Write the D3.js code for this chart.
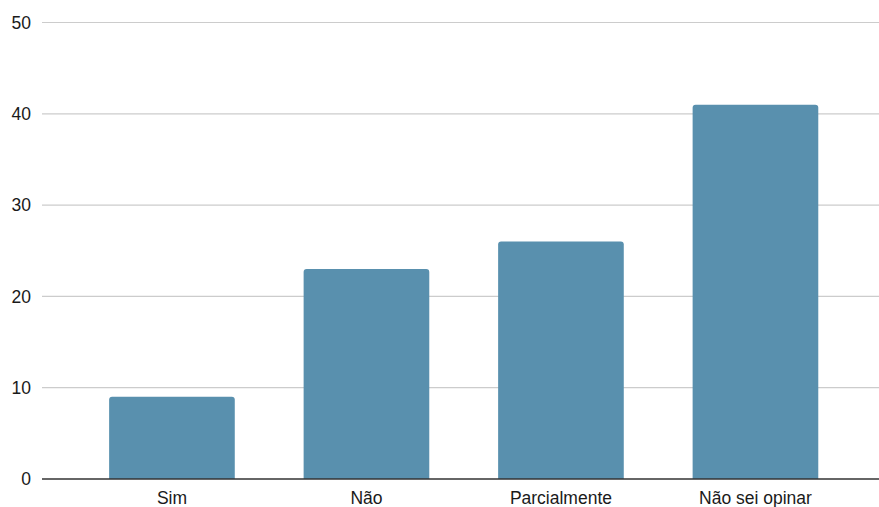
<!DOCTYPE html>
<html><head><meta charset="utf-8">
<script src="https://cdn.jsdelivr.net/npm/d3@7"></script>
<style>html,body{margin:0;padding:0;background:#fff;}svg{display:block;}</style>
</head><body>
<script>
const categories = ["Sim", "Não", "Parcialmente", "Não sei opinar"];
const values = [9, 23, 26, 41];
const yTicks = [0, 10, 20, 30, 40, 50];

const W = 879, H = 507;
const svg = d3.select("body").append("svg").attr("width", W).attr("height", H);
const y = d3.scaleLinear().domain([0, 50]).range([479, 22.5]);
const x = d3.scaleBand().domain(categories).range([74.7, 852.7]).paddingInner(0.354).paddingOuter(0.177);
const left = 42, right = 879;
const font = "Liberation Sans, Arial, sans-serif";

const g = svg.append("g");
g.selectAll("line.grid").data(yTicks.filter(d => d > 0)).enter().append("line")
  .attr("x1", left).attr("x2", right)
  .attr("y1", d => y(d)).attr("y2", d => y(d))
  .attr("stroke", "#cccccc").attr("stroke-width", 1.2);

g.selectAll("text.yt").data(yTicks).enter().append("text")
  .attr("x", 31).attr("y", d => y(d)).attr("dy", "0.36em")
  .attr("text-anchor", "end")
  .attr("font-family", font).attr("font-size", 17.5)
  .attr("fill", "#1a1a1a").text(d => d);

const r = 3;
g.selectAll("path.bar").data(values).enter().append("path")
  .attr("fill", "#5990ae")
  .attr("d", (d, i) => {
    const x0 = x(categories[i]), w = x.bandwidth(), y0 = y(d), yb = y(0);
    return `M${x0},${yb}V${y0 + r}Q${x0},${y0} ${x0 + r},${y0}H${x0 + w - r}Q${x0 + w},${y0} ${x0 + w},${y0 + r}V${yb}Z`;
  });

g.append("line").attr("x1", left).attr("x2", right).attr("y1", y(0)).attr("y2", y(0))
  .attr("stroke", "#333").attr("stroke-width", 1.3);

g.selectAll("text.xt").data(categories).enter().append("text")
  .attr("x", d => x(d) + x.bandwidth() / 2).attr("y", 503.5)
  .attr("text-anchor", "middle")
  .attr("font-family", font).attr("font-size", 17.5)
  .attr("fill", "#1a1a1a").text(d => d);
</script>
</body></html>
